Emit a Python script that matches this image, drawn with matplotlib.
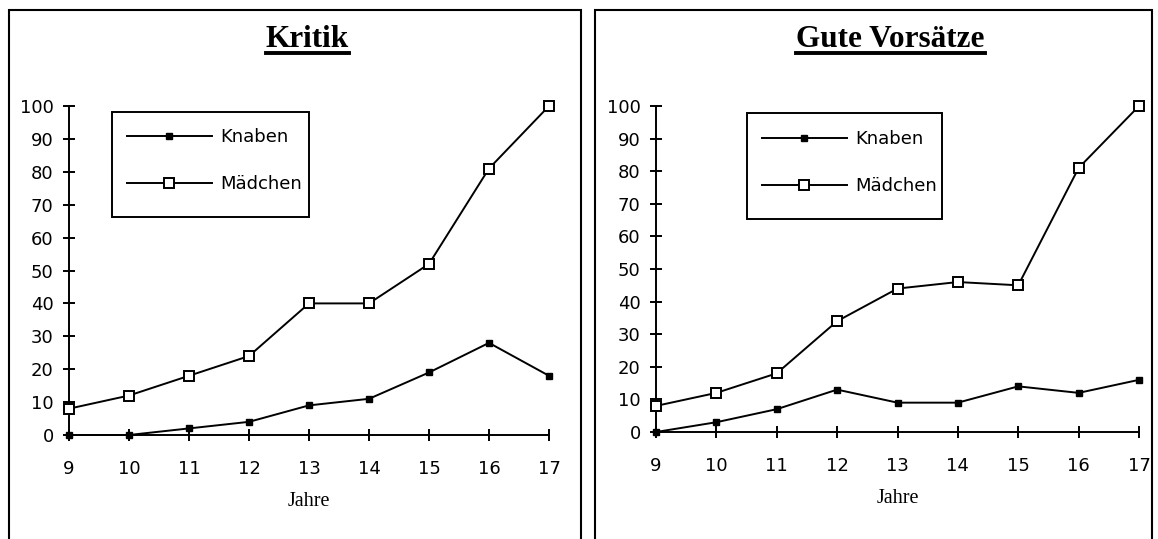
import matplotlib
matplotlib.use("Agg")
import matplotlib.pyplot as plt
from matplotlib.lines import Line2D
from matplotlib.patches import Rectangle

# Age in years
jahre = [9, 10, 11, 12, 13, 14, 15, 16, 17]

# Kritik
kritik_knaben = [0, 0, 2, 4, 9, 11, 19, 28, 18]
kritik_maedchen = [8, 12, 18, 24, 40, 40, 52, 81, 100]

# Gute Vorsätze
vorsaetze_knaben = [0, 3, 7, 13, 9, 9, 14, 12, 16]
vorsaetze_maedchen = [8, 12, 18, 34, 44, 46, 45, 81, 100]

titles = ["Kritik", "Gute Vorsätze"]
series_labels = ["Knaben", "Mädchen"]
y_ticks = [0, 10, 20, 30, 40, 50, 60, 70, 80, 90, 100]

W, H = 1158, 539
fig = plt.figure(figsize=(W / 100, H / 100), dpi=100)
fig.patch.set_facecolor("white")

SANS = "DejaVu Sans"
SERIF = "Liberation Serif"


def px_box(x0, x1, y_top, y_bot):
    return [x0 / W, 1 - y_bot / H, (x1 - x0) / W, (y_bot - y_top) / H]


axes_boxes = [px_box(69, 549, 106, 435), px_box(656, 1139, 106, 432)]
# legend entries anchor and legend box (x0, y0, x1, y1) in axes fractions
legend_anchor = [(0.1208, 0.933), (0.2195, 0.926)]
legend_box = [(0.0896, 0.6626, 0.5, 0.9818), (0.1884, 0.6534, 0.5921, 0.9785)]
title_x = [307.5, 890.5]
panel_x = [(9, 581), (595, 1152)]
data = [(kritik_knaben, kritik_maedchen), (vorsaetze_knaben, vorsaetze_maedchen)]

title_texts = []
for i in range(2):
    ax = fig.add_axes(axes_boxes[i])
    knaben, maedchen = data[i]
    ax.plot(jahre, knaben, color="black", lw=1.4, marker="s", ms=5.0,
            mfc="black", mec="black", clip_on=False, zorder=3,
            label=series_labels[0])
    ax.plot(jahre, maedchen, color="black", lw=1.4, marker="s", ms=7.4,
            mfc="white", mec="black", mew=1.4, clip_on=False, zorder=3,
            label=series_labels[1])
    ax.set_xlim(9, 17)
    ax.set_ylim(0, 100)
    ax.set_xticks(jahre)
    ax.set_yticks(y_ticks)
    for s in ("top", "right"):
        ax.spines[s].set_visible(False)
    for s in ("left", "bottom"):
        ax.spines[s].set_linewidth(1.4)
    ax.tick_params(axis="y", direction="inout", length=8, width=1.4,
                   pad=7, labelsize=13, labelfontfamily=SANS)
    ax.tick_params(axis="x", direction="inout", length=8, width=1.4,
                   pad=14, labelsize=13, labelfontfamily=SANS)
    ax.set_xlabel("Jahre", family=SERIF, fontsize=14.5, labelpad=10)

    ax.legend(loc="upper left", bbox_to_anchor=legend_anchor[i],
              borderaxespad=0, frameon=False, numpoints=1,
              handlelength=4.7, handletextpad=0.45, labelspacing=1.6,
              borderpad=0, prop={"family": SANS, "size": 13})
    bx0, by0, bx1, by1 = legend_box[i]
    ax.add_patch(Rectangle((bx0, by0), bx1 - bx0, by1 - by0,
                           transform=ax.transAxes, fill=False,
                           edgecolor="black", lw=1.4, zorder=6))

    t = fig.text(title_x[i] / W, 1 - 47 / H, titles[i], ha="center",
                 va="baseline", family=SERIF, weight="bold", fontsize=22.5)
    title_texts.append(t)

    # panel frame, open at the lower edge
    x0, x1 = panel_x[i]
    fig.add_artist(Rectangle((x0 / W, -0.05), (x1 - x0) / W, 1.05 - 10 / H,
                             transform=fig.transFigure, fill=False,
                             edgecolor="black", lw=1.5))

# underline the titles
fig.canvas.draw()
renderer = fig.canvas.get_renderer()
for t in title_texts:
    bb = t.get_window_extent(renderer)
    y = 1 - 52.5 / H
    fig.add_artist(Line2D([bb.x0 / W, bb.x1 / W], [y, y],
                          transform=fig.transFigure, color="black", lw=2.8))

fig.savefig("out.png", dpi=100)
